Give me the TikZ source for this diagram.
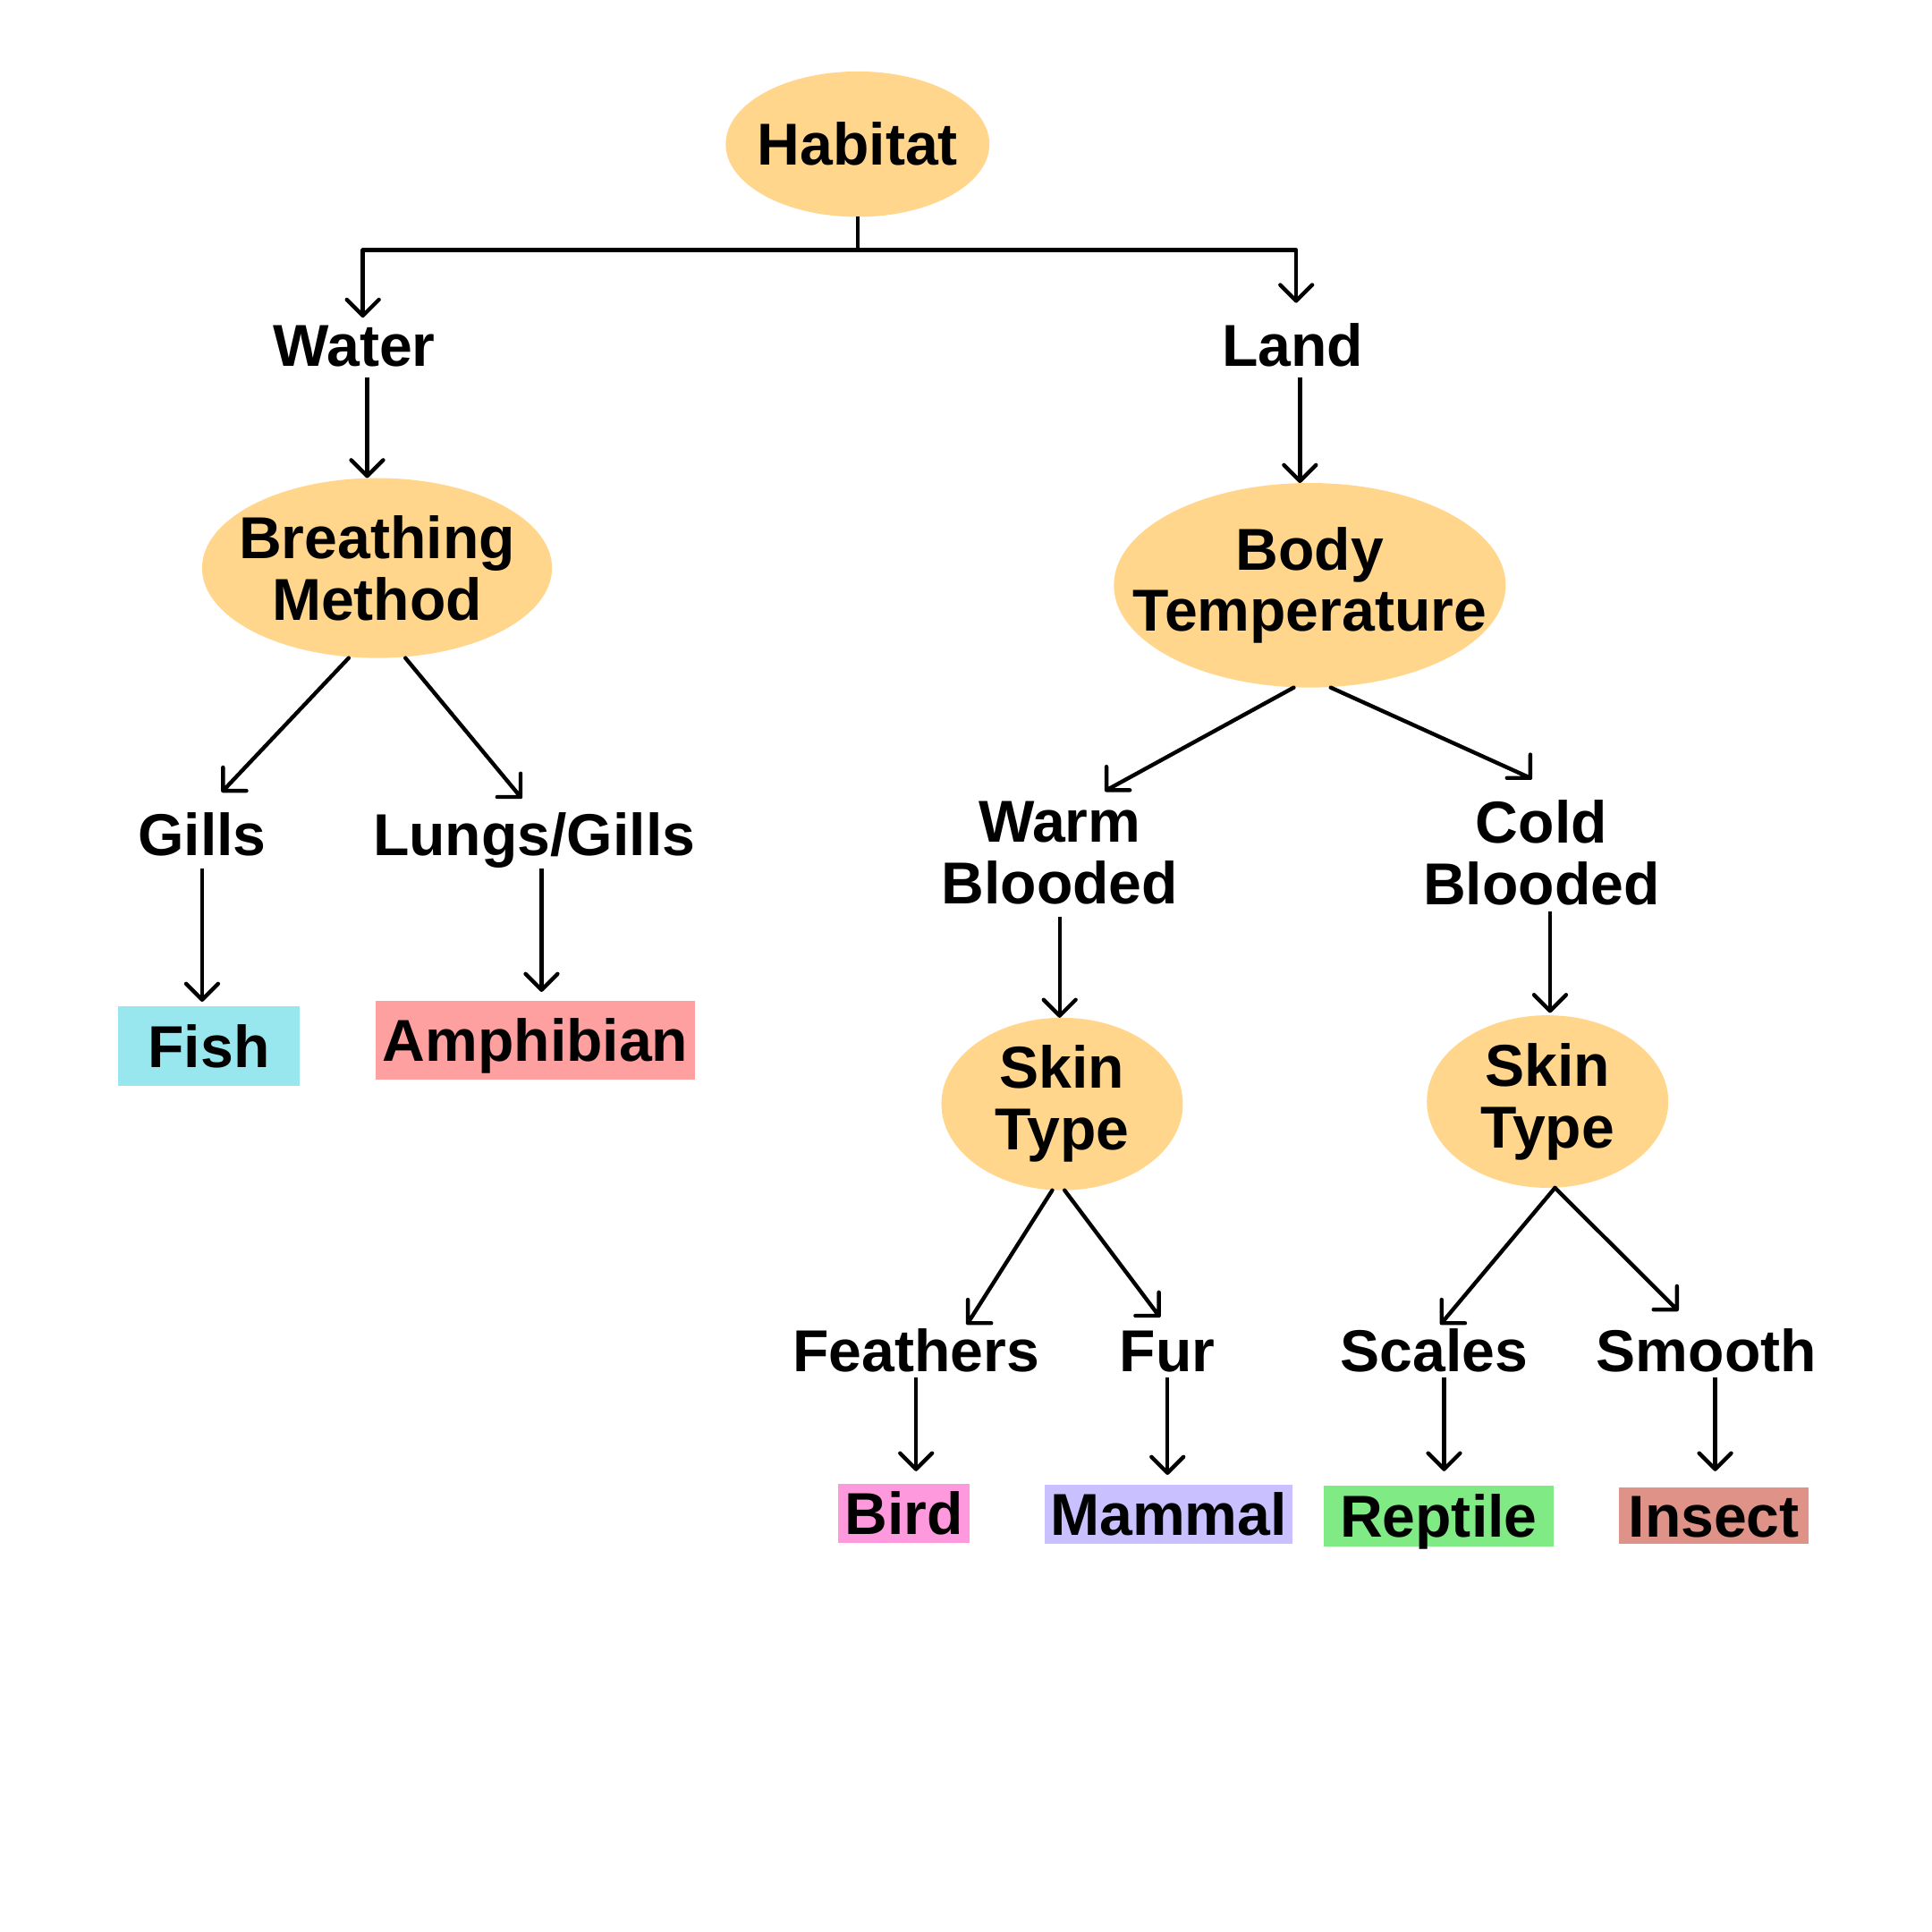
\documentclass[tikz,border=0pt]{standalone}
\usepackage{fontspec}
\setmainfont{Liberation Sans}
\usetikzlibrary{arrows.meta,shapes.geometric,calc}
\definecolor{ellc}{HTML}{FFD68C}
\definecolor{fishc}{HTML}{98E6EE}
\definecolor{amphc}{HTML}{FFA0A0}
\definecolor{birdc}{HTML}{FF99DD}
\definecolor{mammc}{HTML}{C8C0FF}
\definecolor{reptc}{HTML}{80EA85}
\definecolor{insc}{HTML}{DE9288}
\begin{document}
\begin{tikzpicture}[x=1pt,y=-1pt,
 lab/.style={font=\fontsize{48}{50}\selectfont\bfseries, inner sep=0pt, outer sep=5pt, align=center},
 one/.style={lab, text height=34.4pt, text depth=0pt},
 ell/.style={ellipse, fill=ellc, inner sep=0pt, outer sep=0pt},
 leaf/.style={one, outer sep=0pt},
 conn/.style={line width=3.2pt, line join=round},
 arr/.style={conn, -{Straight Barb[length=13pt,width=26pt,round]}},
]
\useasboundingbox[fill=white] (0,0) rectangle (1568,1568);

% decision ellipses
\node[ell, minimum width=214pt, minimum height=118pt, label={[lab]center:Habitat}] (hab) at (696,117) {};
\node[ell, minimum width=284pt, minimum height=146pt, label={[lab]center:Breathing\\Method}] (bm) at (306,461) {};
\node[ell, minimum width=318pt, minimum height=166pt, label={[lab]center:Body\\Temperature}] (bt) at (1063,475) {};
\node[ell, minimum width=196pt, minimum height=140pt, label={[lab]center:Skin\\Type}] (skl) at (862,896) {};
\node[ell, minimum width=196pt, minimum height=140pt, label={[lab]center:Skin\\Type}] (skr) at (1256,894) {};

% branch labels
\node[one] (water) at (287.5,280) {Water};
\node[one] (land) at (1049,280) {Land};
\node[one] (gills) at (164,677) {Gills};
\node[one] (lungs) at (433.5,677) {Lungs/Gills};
\node[lab] (warm) at (860,692) {Warm\\Blooded};
\node[lab] (cold) at (1251,692) {Cold\\Blooded};
\node[one] (feath) at (743.5,1096) {Feathers};
\node[one] (fur) at (947.5,1096) {Fur};
\node[one] (scales) at (1164,1096) {Scales};
\node[one] (smooth) at (1385,1096) {Smooth};

% leaves
\node[leaf, fill=fishc, minimum width=147pt, minimum height=64pt] (fish) at (169.5,849) {Fish};
\node[leaf, fill=amphc, minimum width=259pt, minimum height=64pt] (amph) at (434.5,844) {Amphibian};
\node[leaf, fill=birdc, minimum width=107pt, minimum height=48pt] (bird) at (733.5,1228) {Bird};
\node[leaf, fill=mammc, minimum width=201pt, minimum height=48pt] (mamm) at (948.5,1229) {Mammal};
\node[leaf, fill=reptc, minimum width=187pt, minimum height=49pt] (rept) at (1167.5,1230.5) {Reptile};
\node[leaf, fill=insc, minimum width=154pt, minimum height=46pt] (ins) at (1391,1230) {Insect};

% connectors: root split
\draw[arr] (hab.south) -- ++(0,27) -| ([xshift=7pt]water.north);
\draw[arr, shorten >=12pt] (hab.south) -- ++(0,27) -| ([xshift=3pt]land.north);

% vertical connectors
\draw[arr, shorten <=4pt] ([xshift=-8pt]bm.north |- water.south) -- ([xshift=-8pt]bm.north);
\draw[arr, shorten <=4pt] ([xshift=-8pt]bt.north |- land.south) -- ([xshift=-8pt]bt.north);
\draw[arr, shorten <=6pt, shorten >=4pt] (gills.south) -- (gills.south |- fish.north);
\draw[arr, shorten <=6pt, shorten >=7pt] ([xshift=6pt]lungs.south) -- ([xshift=6pt]lungs.south |- amph.north);
\draw[arr, shorten <=5pt] (warm.south) -- (warm.south |- skl.north);
\draw[arr, shorten >=2pt] ([xshift=7pt]cold.south) -- ([xshift=7pt]cold.south |- skr.north);
\draw[arr, shorten >=10pt] (feath.south) -- (feath.south |- bird.north);
\draw[arr, shorten >=8pt] (fur.south) -- (fur.south |- mamm.north);
\draw[arr, shorten >=12pt] ([xshift=8pt]scales.south) -- ([xshift=8pt]scales.south |- rept.north);
\draw[arr, shorten >=13pt] ([xshift=7pt]smooth.south) -- ([xshift=7pt]smooth.south |- ins.north);

% diagonal connectors with axis-aligned corner heads
\draw[conn, line cap=round] ([xshift=-23pt]bm.south) -- ([xshift=17pt,yshift=13pt]gills.north) ++(0,-19) -- ++(0,19) -- ++(19,0);
\draw[conn, line cap=round] ([xshift=23pt]bm.south) -- ([xshift=-11pt,yshift=8pt]lungs.north) ++(0,-19) -- ++(0,19) -- ++(-19,0);
\draw[conn, line cap=round] ([xshift=-13pt]bt.south) -- ([xshift=38pt,yshift=4pt]warm.north) ++(0,-19) -- ++(0,19) -- ++(19,0);
\draw[conn, line cap=round] ([xshift=17pt]bt.south) -- ([xshift=-9pt,yshift=13pt]cold.north) ++(0,-19) -- ++(0,19) -- ++(-19,0);
\draw[conn, line cap=round] ([xshift=-8pt]skl.south) -- ([xshift=42pt]feath.north) ++(0,-19) -- ++(0,19) -- ++(19,0);
\draw[conn, line cap=round] ([xshift=2pt]skl.south) -- ([xshift=-7pt,yshift=6pt]fur.north) ++(0,-19) -- ++(0,19) -- ++(-19,0);
\draw[conn, line cap=round] ([xshift=6pt]skr.south) -- ([xshift=6pt]scales.north) ++(0,-19) -- ++(0,19) -- ++(19,0);
\draw[conn, line cap=round] ([xshift=6pt]skr.south) -- ([xshift=-24pt,yshift=11pt]smooth.north) ++(0,-19) -- ++(0,19) -- ++(-19,0);
\end{tikzpicture}
\end{document}
